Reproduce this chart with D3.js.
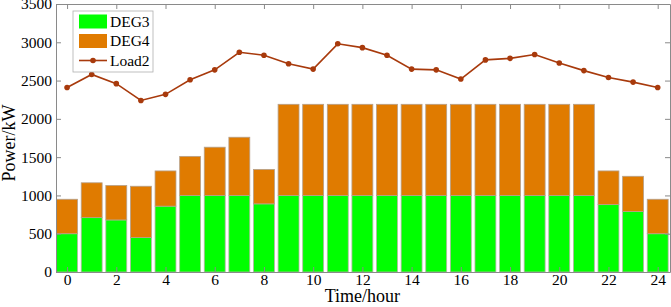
<!DOCTYPE html>
<html>
<head>
<meta charset="utf-8">
<script src="https://cdn.jsdelivr.net/npm/d3@7"></script>
<style>
  body { margin: 0; background: #fff; }
  text { font-family: "Liberation Serif", "Times New Roman", serif; }
</style>
</head>
<body>
<div id="chart"></div>
<script>
const hours = d3.range(0, 25);
const deg3 = [500, 710, 680, 450, 860, 1000, 1000, 1000, 890, 1000, 1000, 1000, 1000,
  1000, 1000, 1000, 1000, 1000, 1000, 1000, 1000, 1000, 880, 790, 500];
const deg4 = [450, 455, 450, 670, 460, 510, 630, 760, 450, 1190, 1190, 1190, 1190,
  1190, 1190, 1190, 1190, 1190, 1190, 1190, 1190, 1190, 440, 460, 450];
const load2 = [2410, 2580, 2460, 2240, 2320, 2510, 2640, 2870, 2830, 2720, 2650, 2980, 2930,
  2830, 2650, 2640, 2520, 2770, 2790, 2840, 2730, 2630, 2540, 2480, 2410];
const xTicks = [0, 2, 4, 6, 8, 10, 12, 14, 16, 18, 20, 22, 24];
const yTicks = [0, 500, 1000, 1500, 2000, 2500, 3000, 3500];

const W = 671, H = 307;
const margin = {top: 4, right: 1, bottom: 35, left: 56};
const width = W - margin.left - margin.right;
const height = H - margin.top - margin.bottom;

const svg = d3.select('#chart').append('svg')
    .attr('width', W)
    .attr('height', H);

const g = svg.append('g')
    .attr('transform', `translate(${margin.left},${margin.top})`);

const x = d3.scaleLinear().domain([-0.45, 24.5]).range([0, width]);
const y = d3.scaleLinear().domain([0, 3500]).range([height, 0]);
const bw = x(0.85) - x(0);

const colors = {deg3: '#00ff00', deg4: '#e07b00', load: '#a83a0c'};

// bars
const rows = hours.map((h, i) => ({h: h, a: deg3[i], b: deg4[i]}));
g.append('g').selectAll('rect.d3')
  .data(rows).enter().append('rect')
    .attr('x', d => x(d.h) - bw / 2)
    .attr('y', d => y(d.a))
    .attr('width', bw)
    .attr('height', d => y(0) - y(d.a))
    .attr('fill', colors.deg3)
    .attr('stroke', '#b5b5a5')
    .attr('stroke-width', 0.8);
g.append('g').selectAll('rect.d4')
  .data(rows).enter().append('rect')
    .attr('x', d => x(d.h) - bw / 2)
    .attr('y', d => y(d.a + d.b))
    .attr('width', bw)
    .attr('height', d => y(d.a) - y(d.a + d.b))
    .attr('fill', colors.deg4)
    .attr('stroke', '#b5a08a')
    .attr('stroke-width', 0.8);

// load line
const line = d3.line().x((d, i) => x(hours[i])).y(d => y(d));
g.append('path')
    .datum(load2)
    .attr('fill', 'none')
    .attr('stroke', colors.load)
    .attr('stroke-width', 1.6)
    .attr('d', line);
g.append('g').selectAll('circle')
  .data(load2).enter().append('circle')
    .attr('cx', (d, i) => x(hours[i]))
    .attr('cy', d => y(d))
    .attr('r', 2.8)
    .attr('fill', colors.load);

// axes (ticks inward, box)
const axCol = '#8a8a8a';
const axBottom = g.append('g').attr('transform', `translate(0,${height})`)
    .call(d3.axisBottom(x).tickValues(xTicks).tickSizeInner(-5).tickSizeOuter(0).tickPadding(2));
const axLeft = g.append('g')
    .call(d3.axisLeft(y).tickValues(yTicks).tickSizeInner(-5).tickSizeOuter(0).tickPadding(4).tickFormat(d3.format('d')));
const axTop = g.append('g')
    .call(d3.axisTop(x).tickValues(xTicks).tickSizeInner(-5).tickSizeOuter(0).tickFormat(''));
const axRight = g.append('g').attr('transform', `translate(${width},0)`)
    .call(d3.axisRight(y).tickValues(yTicks).tickSizeInner(-5).tickSizeOuter(0).tickFormat(''));

[axBottom, axLeft, axTop, axRight].forEach(a => {
  a.attr('font-family', '"Liberation Serif", serif');
  a.selectAll('path').attr('stroke', axCol);
  a.selectAll('line').attr('stroke', axCol);
  a.selectAll('text').attr('font-size', 15.5).attr('fill', '#000');
});

svg.append('text')
    .attr('x', margin.left + x(12))
    .attr('y', 302)
    .attr('text-anchor', 'middle')
    .attr('font-size', 18)
    .text('Time/hour');

svg.append('text')
    .attr('transform', `translate(15,143) rotate(-90)`)
    .attr('text-anchor', 'middle')
    .attr('font-size', 18)
    .text('Power/kW');

// legend
const lg = g.append('g').attr('transform', 'translate(17,7)');
lg.append('rect')
    .attr('width', 80).attr('height', 61)
    .attr('fill', '#fff').attr('stroke', '#b0b0b0').attr('stroke-width', 0.8);
const items = [
  {name: 'DEG3', type: 'rect', color: colors.deg3},
  {name: 'DEG4', type: 'rect', color: colors.deg4},
  {name: 'Load2', type: 'line', color: colors.load}
];
const it = lg.selectAll('g.item').data(items).enter().append('g')
    .attr('transform', (d, i) => `translate(6,${10.5 + i * 19.5})`);
it.filter(d => d.type === 'rect').append('rect')
    .attr('x', 0).attr('y', -7).attr('width', 28).attr('height', 14)
    .attr('fill', d => d.color);
it.filter(d => d.type === 'line').append('line')
    .attr('x1', 0).attr('x2', 28).attr('y1', 0).attr('y2', 0)
    .attr('stroke', d => d.color).attr('stroke-width', 1.6);
it.filter(d => d.type === 'line').append('circle')
    .attr('cx', 14).attr('cy', 0).attr('r', 2.8).attr('fill', d => d.color);
it.append('text')
    .attr('x', 31).attr('y', 0).attr('dy', '0.35em')
    .attr('font-size', 15.5)
    .text(d => d.name);
</script>
</body>
</html>
